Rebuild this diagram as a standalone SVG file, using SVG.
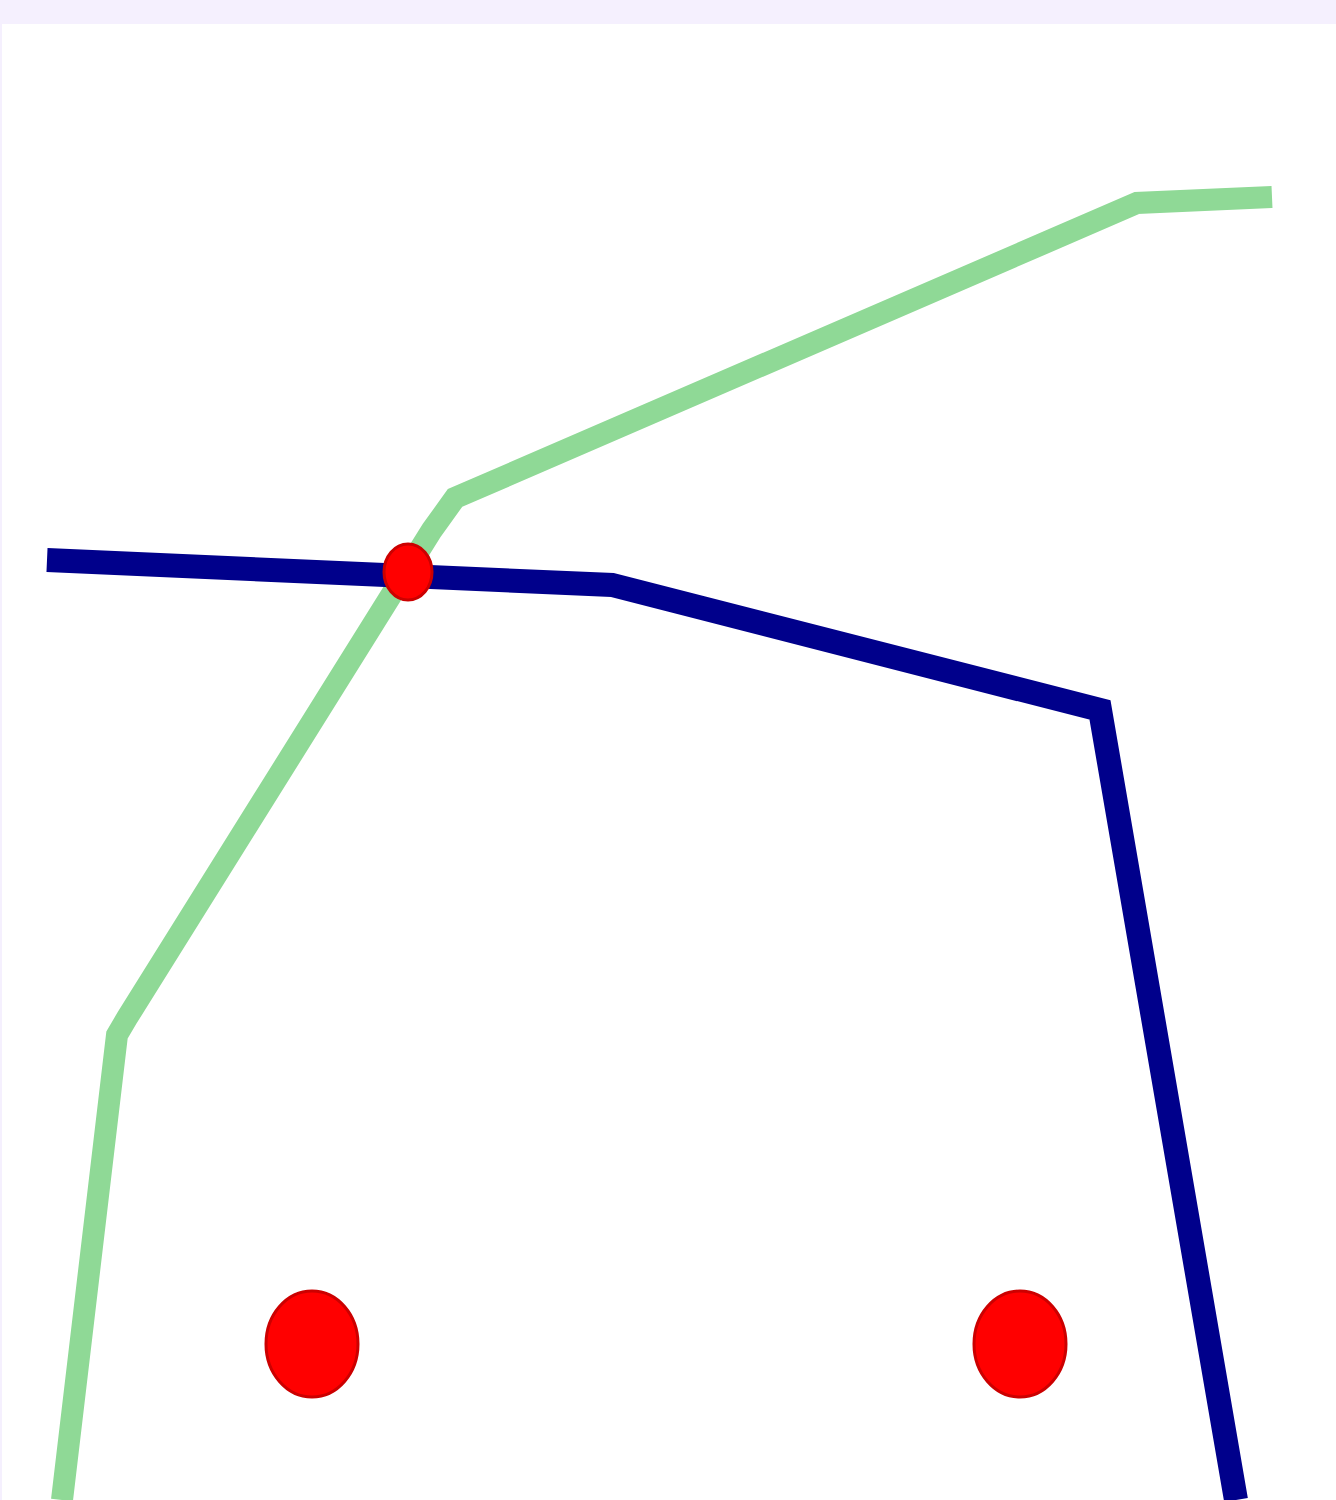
<svg xmlns="http://www.w3.org/2000/svg" width="1336" height="1500" viewBox="0 0 1336 1500">
<style>
.line{fill:none;stroke-linejoin:miter;stroke-linecap:butt}
.dot{fill:#ff0000;stroke:#cc0000;stroke-width:3}
</style>
<rect x="0" y="0" width="1336" height="1500" fill="#ffffff"/>
<rect x="0" y="0" width="1336" height="24" fill="#f5f0fe"/>
<rect x="0" y="0" width="2" height="1500" fill="#f5f0fe"/>
<g id="connectors">
<polyline class="line" stroke="#8fd996" stroke-width="22" points="1272,197 1137,203 455,498 432,530 127,1018 117,1035 62,1500"/>
<polyline class="line" stroke="#00008b" stroke-width="24" points="47,560 612,585 1100,710 1236,1500"/>
</g>
<g id="dot1"><ellipse class="dot" cx="408" cy="572" rx="24" ry="28"/></g>
<g id="dot2"><ellipse class="dot" cx="312" cy="1344" rx="46" ry="53"/></g>
<g id="dot3"><ellipse class="dot" cx="1020" cy="1344" rx="46" ry="53"/></g>
</svg>
